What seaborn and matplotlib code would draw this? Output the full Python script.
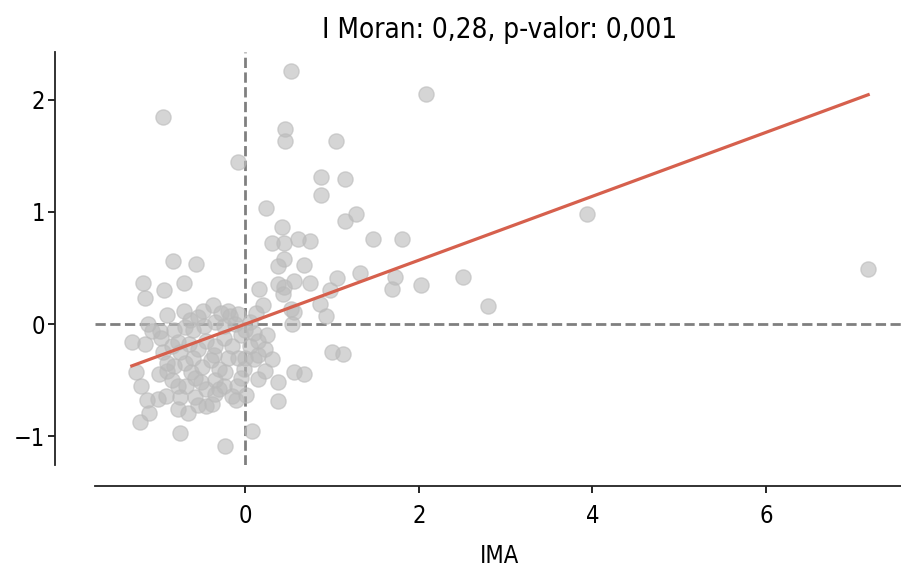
import matplotlib
matplotlib.use("Agg")
import matplotlib.pyplot as plt
import seaborn as sns
import numpy as np
import pandas as pd

title_text = "I Moran: 0,28, p-valor: 0,001"
x_label = "IMA"

# standardized attribute (IMA) and its spatial lag
ima_z = [
    0.52, 0.46, 0.46, 1.04, -0.08, 0.87, 1.15, 0.87, 0.24, 1.15, 1.27, 0.42, 0.31, 0.45,
    0.61, 0.75, 1.47, 1.80, -0.95, 2.08, 3.94, 7.18, 1.73, 1.69, 2.02, 2.51, 2.80, 0.67,
    0.56, 0.74, 1.06, 1.32, 0.98, 0.86, 0.93, 0.56, 1.00, 1.13, 0.45, 0.37, 0.37, 0.45,
    0.16, 0.20, 0.43, 0.53, 0.54, 0.56, 0.67, 0.37, 0.37, 0.22, 0.31, 0.08, -0.24,
    -0.84, -0.57, -1.18, -1.16, -0.94, -0.71, -1.12, -0.91, -0.71, -0.49, -0.37, -0.64,
    -0.55, -0.18, -0.09, -1.31, -1.16, -1.08, -0.98, -1.26, -1.20, -1.14, -1.22, -1.11,
    -1.01, -0.92, -0.78, -0.66, -0.75, -0.45, -0.15, 0.22, 0.14, 0.01, -0.11, -0.30,
    -0.39, 0.10, -0.36, -0.24, -0.82, -0.78, -0.63, -0.51, -0.78, -0.70, -0.91,
    -0.85, -0.75, -0.65, -0.55, -0.45, -0.35, -0.25, -0.15, -0.05,
    -0.90, -0.70, -0.60, -0.50, -0.40, -0.30, -0.20, -0.08, 0.00,
    -0.85, -0.68, -0.58, -0.45, -0.35, -0.25, -0.05,
    -0.75, -0.58, -0.35, -0.55,
    -0.60, -0.48, -0.35, -0.25, -0.12, 0.05, 0.10, 0.00, -0.20, -0.28, 0.12,
    -0.95, -1.00, -0.97, -0.82, 0.15, 0.05, 0.25, 0.15, -0.10, -0.02,
]
ima_lag = [
    2.26, 1.74, 1.63, 1.63, 1.45, 1.31, 1.29, 1.15, 1.04, 0.92, 0.98, 0.87, 0.72, 0.72,
    0.76, 0.74, 0.76, 0.76, 1.85, 2.05, 0.98, 0.49, 0.42, 0.31, 0.35, 0.42, 0.16, 0.53,
    0.38, 0.37, 0.41, 0.46, 0.30, 0.18, 0.07, 0.11, -0.25, -0.27, 0.58, 0.52, 0.36, 0.33,
    0.31, 0.17, 0.27, 0.13, 0.00, -0.43, -0.45, -0.52, -0.69, -0.22, -0.31, -0.95, -1.09,
    0.56, 0.54, 0.37, 0.23, 0.30, 0.37, 0.00, 0.08, 0.12, 0.12, 0.17, 0.04,
    0.06, 0.07, 0.09, -0.16, -0.18, -0.06, -0.06, -0.43, -0.55, -0.68, -0.87, -0.79,
    -0.67, -0.64, -0.76, -0.79, -0.97, -0.73, -0.64, -0.42, -0.49, -0.63, -0.68, -0.58,
    -0.71, -0.31, -0.28, -0.43, -0.37, -0.55, -0.43, -0.52, -0.16, -0.03, -0.42,
    -0.20, -0.25, -0.18, -0.22, -0.15, -0.20, -0.12, -0.20, -0.10,
    -0.35, -0.35, -0.30, -0.38, -0.32, -0.40, -0.30, -0.30, -0.30,
    -0.50, -0.55, -0.48, -0.58, -0.50, -0.55, -0.48,
    -0.65, -0.65, -0.62, -0.72,
    -0.05, -0.02, 0.02, -0.02, 0.00, 0.02, -0.08, -0.05, 0.12, 0.10, 0.10,
    -0.25, -0.45, -0.12, -0.05, -0.15, -0.20, -0.10, -0.28, -0.55, -0.40,
]

# fitted line (slope = Moran's I)
fit_slope = 0.285
fit_intercept = 0.0

df = pd.DataFrame({"IMA": ima_z, "lag": ima_lag})

fig = plt.figure(figsize=(9.01, 5.72), dpi=100)
ax = fig.add_axes([95 / 901, 107 / 572, 810 / 901, 413 / 572])

font_kw = dict(family="DejaVu Sans", stretch="condensed")

sns.scatterplot(data=df, x="IMA", y="lag", ax=ax, color="#bababa", alpha=0.6,
                s=120, edgecolor="#bababa", linewidth=1, zorder=2)

xs = np.array([min(ima_z), max(ima_z)])
sns.lineplot(x=xs, y=fit_intercept + fit_slope * xs, ax=ax, color="#d6604d",
             linewidth=2.3, zorder=3)

ax.axvline(0, alpha=0.5, color="k", linestyle="--", linewidth=2, zorder=1)
ax.axhline(0, alpha=0.5, color="k", linestyle="--", linewidth=2, zorder=1)

ax.spines["left"].set_position(("axes", -0.05))
ax.spines["bottom"].set_position(("axes", -0.05))
ax.spines["right"].set_visible(False)
ax.spines["top"].set_visible(False)
for s in ("left", "bottom"):
    ax.spines[s].set_linewidth(1.3)
    ax.spines[s].set_color("#222222")

ax.set_xticks([0, 2, 4, 6])
ax.set_yticks([-1, 0, 1, 2])
ax.tick_params(labelsize=17, width=1.2, length=5)
ax.tick_params(axis="y", pad=2)
ax.tick_params(axis="x", pad=8)
for lab in ax.get_xticklabels() + ax.get_yticklabels():
    lab.set_fontfamily("DejaVu Sans")
    lab.set_fontstretch("condensed")

ax.set_xlabel(x_label, fontsize=17, labelpad=12, **font_kw)
ax.set_ylabel("")
ax.set_title(title_text, fontsize=20, pad=10, **font_kw)

fig.savefig("out.png", dpi=100)
